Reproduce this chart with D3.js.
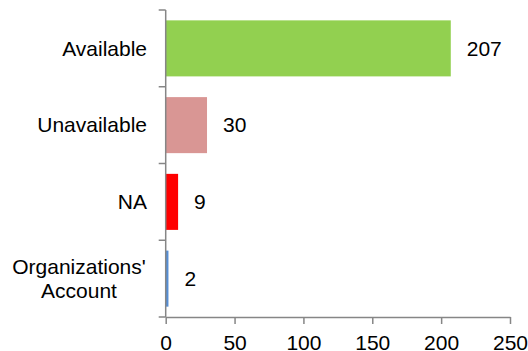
<!DOCTYPE html>
<html><head><meta charset="utf-8">
<script src="https://cdn.jsdelivr.net/npm/d3@7"></script>
<style>
html,body{margin:0;padding:0;background:#fff;}
svg{display:block;font-family:"Liberation Sans",Arial,sans-serif;}
</style></head>
<body>
<svg id="chart" width="528" height="351"></svg>
<script>
const categories = ["Available", "Unavailable", "NA", "Organizations' Account"];
const categoryLines = [["Available"], ["Unavailable"], ["NA"], ["Organizations'", "Account"]];
const values = [207, 30, 9, 2];
const colors = ["#92D050", "#D99694", "#FF0000", "#558ED5"];
const xTicks = [0, 50, 100, 150, 200, 250];

const svg = d3.select("#chart");
const axisColor = "#868686";
const fontSize = 21;
const plotTop = 10, plotBottom = 317;

const x = d3.scaleLinear().domain([0, 250]).range([165.7, 510]);
const y = d3.scaleBand().domain(categories).range([plotTop, plotBottom]).paddingInner(0.27).paddingOuter(0.135);
const yb = d3.scaleBand().domain(categories).range([plotTop, plotBottom]);

// bars
svg.selectAll("rect.bar").data(values).enter().append("rect")
  .attr("class", "bar")
  .attr("x", x(0))
  .attr("y", (d, i) => y(categories[i]))
  .attr("width", d => x(d) - x(0))
  .attr("height", y.bandwidth())
  .attr("fill", (d, i) => colors[i]);

// value labels
svg.selectAll("text.val").data(values).enter().append("text")
  .attr("class", "val")
  .attr("x", d => x(d) + 16)
  .attr("y", (d, i) => y(categories[i]) + y.bandwidth() / 2)
  .attr("dy", "0.35em")
  .attr("font-size", fontSize)
  .attr("fill", "#000")
  .text(d => d);

// y axis
const yAxis = svg.append("g");
yAxis.append("line").attr("x1", x(0)).attr("x2", x(0)).attr("y1", plotTop).attr("y2", plotBottom)
  .attr("stroke", axisColor).attr("stroke-width", 1.5);
const yTickPos = categories.map(c => yb(c)).concat([plotBottom]);
yAxis.selectAll("line.t").data(yTickPos).enter().append("line")
  .attr("x1", x(0) - 7).attr("x2", x(0)).attr("y1", d => d).attr("y2", d => d)
  .attr("stroke", axisColor).attr("stroke-width", 1.5);

// category labels
categoryLines.forEach((lines, i) => {
  const cy = yb(categories[i]) + yb.bandwidth() / 2;
  const lh = 23.5;
  const t = svg.append("text").attr("font-size", fontSize).attr("fill", "#000");
  if (lines.length === 1) {
    t.attr("x", 147).attr("y", cy).attr("dy", "0.35em").attr("text-anchor", "end").text(lines[0]);
  } else {
    const cx = 79;
    t.attr("text-anchor", "middle");
    lines.forEach((l, j) => {
      t.append("tspan").attr("x", cx)
        .attr("y", cy + (j - (lines.length - 1) / 2) * lh)
        .attr("dy", "0.35em").text(l);
    });
  }
});

// x axis
const xg = svg.append("g").attr("transform", `translate(0,${plotBottom})`);
xg.call(d3.axisBottom(x).tickValues(xTicks).tickSize(7).tickPadding(11).tickSizeOuter(0));
xg.select(".domain").attr("stroke", axisColor).attr("stroke-width", 1.5);
xg.selectAll(".tick line").attr("stroke", axisColor).attr("stroke-width", 1.5);
xg.selectAll(".tick text").attr("font-size", fontSize).attr("fill", "#000")
  .attr("font-family", "Liberation Sans, Arial, sans-serif");
</script>
</body></html>
